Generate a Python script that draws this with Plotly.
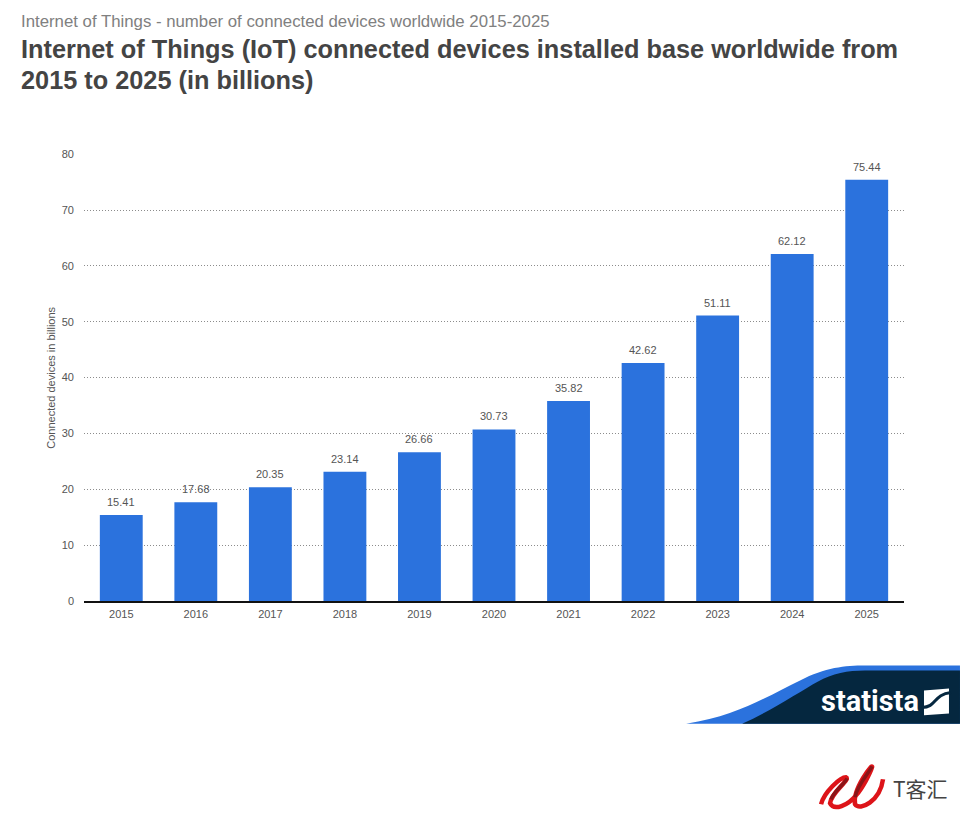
import plotly.graph_objects as go

years = ["2015","2016","2017","2018","2019","2020","2021","2022","2023","2024","2025"]
devices = [15.41,17.68,20.35,23.14,26.66,30.73,35.82,42.62,51.11,62.12,75.44]
y_ticks = [0,10,20,30,40,50,60,70,80]
subtitle = "Internet of Things - number of connected devices worldwide 2015-2025"
title_1 = "Internet of Things (IoT) connected devices installed base worldwide from"
title_2 = "2015 to 2025 (in billions)"
y_title = "Connected devices in billions"

W, H = 960, 819
L, R, T, B = 83.5, 904, 154, 601.5

def px(x): return (x - L) / (R - L)
def py(y): return (B - y) / (B - T)
def path(cmds):
    out = []
    for c in cmds:
        if isinstance(c, str):
            out.append(c)
        else:
            out.append(f"{px(c[0]):.5f},{py(c[1]):.5f}")
    return " ".join(out)

BLUE = "#2b72dd"
NAVY = "#05273f"
TXT = "#555555"

fig = go.Figure(go.Bar(
    x=years, y=devices, marker=dict(color=BLUE, line=dict(width=0)),
    cliponaxis=False, width=0.575,
))

for i, v in enumerate(devices):
    fig.add_annotation(x=i, y=v, xref="x", yref="y", yanchor="bottom", yshift=5, showarrow=False,
                       text=f"{v:.2f}", font=dict(family="Liberation Sans", size=11, color=TXT))

def sh(p, **kw):
    return dict(type="path", xref="paper", yref="paper", layer="above", path=path(p), **kw)

shapes = [
    sh(["M",(686,724.5),"C",(740,716),(770,695),(800,681),"C",(825,668),(845,666),(865,666),"L",(960,666),"L",(960,724.5),"Z"],
       line=dict(width=0), fillcolor=BLUE),
    sh(["M",(742,724.5),"C",(770,712),(800,692),(818,682),"C",(832,674),(848,671),(865,671),"L",(960,671),"L",(960,724.5),"Z"],
       line=dict(width=0), fillcolor=NAVY),
    sh(["M",(924,691),"L",(949,689),"L",(949,714),"L",(924,716),"Z"], line=dict(width=0), fillcolor="white"),
    sh(["M",(922,708),"C",(937,708),(933,695),(951,693)], line=dict(width=3, color=NAVY)),
    # red ribbon mark
    sh(["M",(821,805),"C",(824,793),(840,778),(846,778),"C",(851,780),(831,793),(830,804),
        "C",(834,812),(848,806),(856,796),"C",(863,788),(870,774),(872,768),
        "C",(874,762),(852,790),(855,805),"C",(860,812),(880,802),(883,780)],
       line=dict(width=4.5, color="#dd1419")),
    sh(["M",(847,779),"C",(845,784),(834,792),(831,800)], line=dict(width=3.5, color="#8a1518")),
    sh(["M",(872,767),"C",(870,772),(857,786),(855,798)], line=dict(width=3.5, color="#8a1518")),
]

def note(x, y, text, size, color, family="Liberation Sans", anchor="left", **kw):
    fig.add_annotation(x=px(x), y=py(y), xref="paper", yref="paper", xanchor=anchor, yanchor="middle",
                       showarrow=False, text=text, font=dict(family=family, size=size, color=color), **kw)

note(18.5, 21, subtitle, 16.8, "#808080")
note(18.5, 49, f"<b>{title_1}</b>", 25.3, "#444444")
note(18.5, 80, f"<b>{title_2}</b>", 25.3, "#444444")
note(50.5, 378, y_title, 11, TXT, anchor="center", textangle=-90)
note(870, 702, "<b>statista</b>", 29, "white", family="Roboto", anchor="center")
note(921, 789, "T客汇", 21, "#444444", family="Noto Sans CJK SC", anchor="center")

fig.update_layout(
    width=W, height=H, margin=dict(l=L, r=W-R, t=T, b=H-B, autoexpand=False),
    paper_bgcolor="white", plot_bgcolor="white", showlegend=False, bargap=0.42,
    shapes=shapes,
)
fig.update_xaxes(type="category", categoryorder="array", categoryarray=years, showgrid=False, showline=True,
                 linecolor="#111111", linewidth=2, range=[-0.5, 10.5],
                 ticks="", tickfont=dict(family="Liberation Sans", size=11, color=TXT), ticklabelstandoff=2)
fig.update_yaxes(range=[0,80.05], tickvals=y_ticks, showgrid=True, gridcolor="#8c8c8c", griddash="1px,2px", gridwidth=1,
                 zeroline=False, showline=False, ticks="", ticklabelstandoff=9,
                 tickfont=dict(family="Liberation Sans", size=11, color=TXT))
fig.write_html("out.html", post_script="document.body.style.margin='0';", config=dict(displayModeBar=False))
